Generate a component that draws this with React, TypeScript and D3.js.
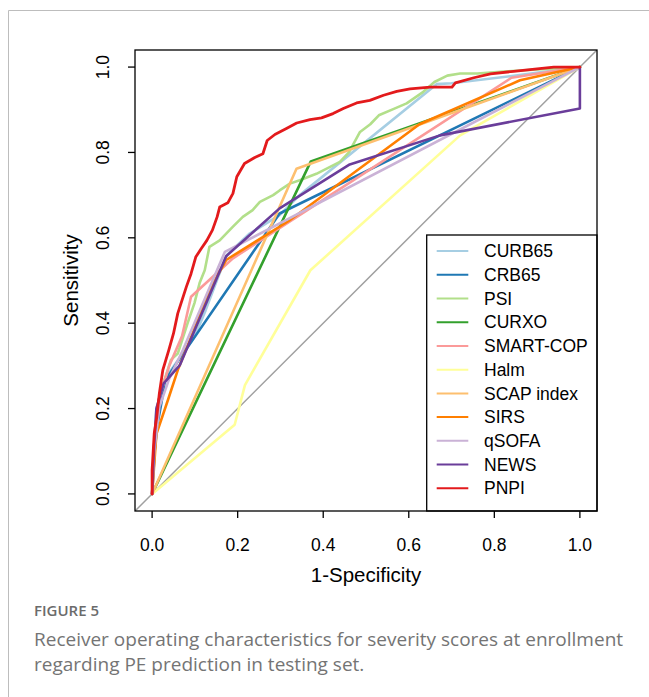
import React from 'react';
import * as d3 from 'd3';

// ROC points: [1-specificity, sensitivity]
const CURB65: [number, number][] = [
  [0, 0], [0.01, 0.2], [0.03, 0.27], [0.1, 0.37], [0.125, 0.43], [0.155, 0.51], [0.175, 0.56],
  [0.228, 0.61], [0.298, 0.653], [0.345, 0.7], [0.665, 0.96], [0.7, 0.962], [0.85, 0.98], [1, 1],
];
const CRB65: [number, number][] = [
  [0, 0], [0.006, 0.1], [0.012, 0.16], [0.022, 0.215], [0.03, 0.265], [0.06, 0.31], [0.298, 0.657], [1, 1],
];
const PSI: [number, number][] = [
  [0, 0], [0.005, 0.12], [0.015, 0.22], [0.029, 0.267], [0.044, 0.314], [0.06, 0.329], [0.083, 0.4],
  [0.099, 0.447], [0.111, 0.494], [0.123, 0.524], [0.134, 0.579], [0.158, 0.594], [0.189, 0.626],
  [0.212, 0.649], [0.235, 0.665], [0.252, 0.684], [0.283, 0.7], [0.298, 0.711], [0.322, 0.727],
  [0.345, 0.735], [0.384, 0.75], [0.439, 0.778], [0.46, 0.8], [0.486, 0.848], [0.51, 0.866],
  [0.53, 0.887], [0.565, 0.902], [0.595, 0.915], [0.634, 0.942], [0.66, 0.965], [0.69, 0.98],
  [0.72, 0.985], [0.76, 0.985], [0.83, 0.99], [1, 1],
];
const CURXO: [number, number][] = [[0, 0], [0.371, 0.779], [1, 1]];
const SMARTCOP: [number, number][] = [
  [0, 0], [0.005, 0.12], [0.015, 0.22], [0.04, 0.3], [0.07, 0.37], [0.091, 0.462], [0.189, 0.552],
  [0.84, 0.975], [1, 1],
];
const HALM: [number, number][] = [[0, 0], [0.193, 0.162], [0.217, 0.255], [0.37, 0.524], [0.72, 0.84], [1, 1]];
const SCAP: [number, number][] = [[0, 0], [0.3375, 0.762], [1, 1]];
const SIRS: [number, number][] = [
  [0, 0], [0.01, 0.14], [0.037, 0.22], [0.06, 0.29], [0.138, 0.485], [0.173, 0.548], [0.32, 0.64],
  [0.625, 0.866], [0.86, 0.969], [1, 1],
];
const QSOFA: [number, number][] = [
  [0, 0], [0.005, 0.1], [0.017, 0.204], [0.04, 0.27], [0.072, 0.337], [0.17, 0.567], [1, 1],
];
const NEWS: [number, number][] = [
  [0, 0], [0.004, 0.1], [0.01, 0.2], [0.027, 0.259], [0.065, 0.302], [0.173, 0.557], [0.298, 0.669],
  [0.462, 0.772], [0.673, 0.84], [1, 0.903], [1, 1],
];
const PNPI: [number, number][] = [
  [0, 0], [0, 0.056], [0.005, 0.142], [0.011, 0.181], [0.017, 0.236], [0.025, 0.29], [0.039, 0.337],
  [0.05, 0.376], [0.06, 0.423], [0.07, 0.454], [0.08, 0.485], [0.091, 0.516], [0.102, 0.555],
  [0.115, 0.575], [0.128, 0.594], [0.141, 0.618], [0.152, 0.649], [0.158, 0.672], [0.177, 0.682],
  [0.189, 0.704], [0.198, 0.743], [0.216, 0.774], [0.24, 0.788], [0.259, 0.797], [0.269, 0.828],
  [0.287, 0.842], [0.314, 0.856], [0.338, 0.869], [0.369, 0.877], [0.396, 0.881], [0.423, 0.891],
  [0.447, 0.903], [0.478, 0.916], [0.509, 0.922], [0.541, 0.934], [0.572, 0.943], [0.603, 0.949],
  [0.65, 0.953], [0.701, 0.953], [0.709, 0.963], [0.752, 0.975], [0.791, 0.984], [0.845, 0.99],
  [0.9, 0.996], [0.939, 1], [1, 1],
];

const seriesNames = ['CURB65', 'CRB65', 'PSI', 'CURXO', 'SMART-COP', 'Halm', 'SCAP index', 'SIRS', 'qSOFA', 'NEWS', 'PNPI'];
const seriesData = [CURB65, CRB65, PSI, CURXO, SMARTCOP, HALM, SCAP, SIRS, QSOFA, NEWS, PNPI];
const seriesColors = ['#a6cee3', '#1f78b4', '#b2df8a', '#33a02c', '#fb9a99', '#ffff99', '#fdbf6f', '#ff7f00', '#cab2d6', '#6a3d9a', '#e31a1c'];
const ticks = [0, 0.2, 0.4, 0.6, 0.8, 1.0];

const W = 649;
const H = 697;
const box = { left: 135, right: 597, top: 50, bottom: 511 };
const axisFont = '"Liberation Sans", Arial, sans-serif';
const captionFont = '"Open Sans", sans-serif';

export default function App() {
  const x = d3.scaleLinear().domain([-0.04, 1.04]).range([box.left, box.right]);
  const y = d3.scaleLinear().domain([-0.04, 1.04]).range([box.bottom, box.top]);
  const line = d3.line<[number, number]>().x(d => x(d[0])).y(d => y(d[1]));

  const legend = { left: 426.7, top: 235, first: 251, step: 23.73 };

  return (
    <div style={{ position: 'absolute', left: 0, top: 0 }}>
      <svg width={W} height={H} style={{ display: 'block' }}>
        <rect x={0} y={0} width={W} height={H} fill="#fff" />
        {/* card frame */}
        <line x1={8.5} y1={10.5} x2={W} y2={10.5} stroke="#bdbdbd" strokeWidth={1} />
        <line x1={8.5} y1={10.5} x2={8.5} y2={H} stroke="#bdbdbd" strokeWidth={1} />

        <defs>
          <clipPath id="plotClip">
            <rect x={box.left} y={box.top} width={box.right - box.left} height={box.bottom - box.top} />
          </clipPath>
        </defs>

        {/* reference diagonal */}
        <line x1={x(-0.04)} y1={y(-0.04)} x2={x(1.04)} y2={y(1.04)} stroke="#a0a0a0" strokeWidth={1.5} clipPath="url(#plotClip)" />

        <g clipPath="url(#plotClip)" fill="none" strokeLinejoin="round" strokeLinecap="round">
          {seriesData.map((d, i) => (
            <path key={seriesNames[i]} d={line(d) || ''} stroke={seriesColors[i]} strokeWidth={i === 10 ? 2.8 : 2.6} />
          ))}
        </g>

        {/* legend */}
        <rect x={legend.left} y={legend.top} width={box.right - legend.left} height={box.bottom - legend.top}
          fill="#fff" stroke="#000" strokeWidth={1.3} />
        {seriesNames.map((name, i) => {
          const ly = legend.first + i * legend.step;
          return (
            <g key={name}>
              <line x1={436.7} x2={468.3} y1={ly} y2={ly} stroke={seriesColors[i]} strokeWidth={2} />
              <text x={484} y={ly} dy="0.35em" fontFamily={axisFont} fontSize={17.5} fill="#000">{name}</text>
            </g>
          );
        })}

        {/* plot box */}
        <rect x={box.left} y={box.top} width={box.right - box.left} height={box.bottom - box.top}
          fill="none" stroke="#000" strokeWidth={1.3} />

        {/* x axis */}
        {ticks.map(t => (
          <g key={'x' + t}>
            <line x1={x(t)} x2={x(t)} y1={box.bottom} y2={box.bottom + 7} stroke="#000" strokeWidth={1.3} />
            <text x={x(t)} y={551} textAnchor="middle" fontFamily={axisFont} fontSize={17.5}>{t.toFixed(1)}</text>
          </g>
        ))}
        <text x={(box.left + box.right) / 2} y={582} textAnchor="middle" fontFamily={axisFont} fontSize={20.5}>1-Specificity</text>

        {/* y axis */}
        {ticks.map(t => (
          <g key={'y' + t}>
            <line x1={box.left} x2={box.left - 7} y1={y(t)} y2={y(t)} stroke="#000" strokeWidth={1.3} />
            <text transform={`translate(109,${y(t)}) rotate(-90)`} textAnchor="middle" fontFamily={axisFont} fontSize={17.5}>{t.toFixed(1)}</text>
          </g>
        ))}
        <text transform={`translate(77.5,${(box.top + box.bottom) / 2}) rotate(-90)`} textAnchor="middle" fontFamily={axisFont} fontSize={20.5}>Sensitivity</text>

        {/* caption */}
        <text x={34} y={616} fontFamily={captionFont} fontWeight={600} fontSize={15} fill="#6b6b6b">FIGURE 5</text>
        <text x={34} y={646} fontFamily={captionFont} fontSize={19} fill="#747474">Receiver operating characteristics for severity scores at enrollment</text>
        <text x={34} y={671} fontFamily={captionFont} fontSize={19} fill="#747474">regarding PE prediction in testing set.</text>
      </svg>
    </div>
  );
}
